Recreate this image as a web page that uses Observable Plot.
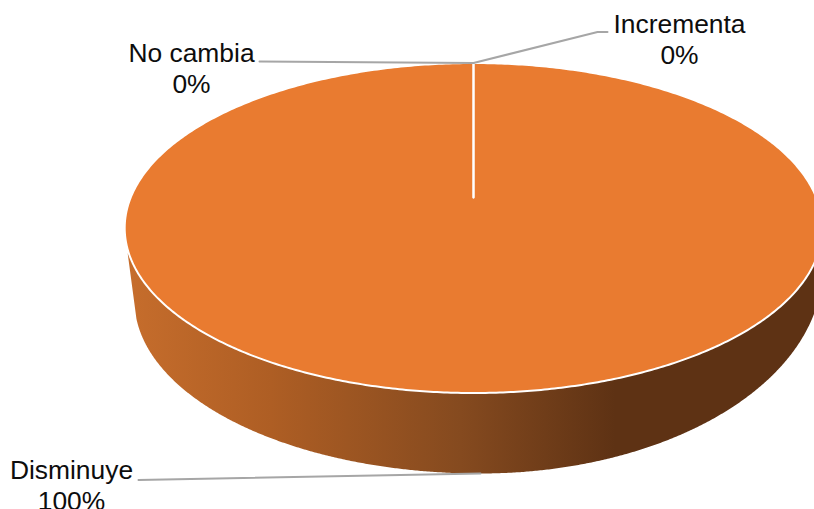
<!DOCTYPE html>
<html>
<head>
<meta charset="utf-8">
<script src="https://cdn.jsdelivr.net/npm/d3@7"></script>
<script src="https://cdn.jsdelivr.net/npm/@observablehq/plot@0.6"></script>
<style>
  html, body { margin: 0; padding: 0; background: #fff; overflow: hidden; }
  svg { display: block; }
</style>
</head>
<body>
<div id="chart"></div>
<script>
// Survey answers and their shares, in percent, clockwise from twelve o'clock.
const categories = ["Incrementa", "Disminuye", "No cambia"];
const shares = [0, 100, 0];

// Tilted-disc geometry, in SVG units.
const width = 814, height = 509;
const disc = {cx: 473, cy: 227.5, rx: 348.8, ry: 165, hubY: 197};
const rimRight = {cx: 480, cy: 268, rx: 342, ry: 205};
const rimLeft = {cx: 480, cy: 300, rx: 346, ry: 173};
const wallCorner = {x: 127.2, y: 253};

// Shading of the side wall, left to right.
const wallStops = [
  [127, "#c66d2c"], [270, "#ae5e24"], [460, "#854a1f"], [615, "#5e3214"], [814, "#5e3214"]
];

// Label placement relative to the rim point each leader starts from.
const labelPlacement = {
  "Incrementa": {elbow: [[124, -31], [134, -31]], dx: 206, dy: -52},
  "No cambia": {elbow: [[-214, -1.5]], dx: -282, dy: -23},
  "Disminuye": {elbow: [[-342, 6.5]], dx: -409, dy: -16}
};

const pie = d3.pie().sort(null).startAngle(0).endAngle(2 * Math.PI);
const arcs = pie(shares).map((a, i) => ({...a, category: categories[i]}));

const onDisc = (a) => [disc.cx + disc.rx * Math.sin(a), disc.cy - disc.ry * Math.cos(a)];
const onRim = (a) => {
  const e = Math.sin(a) >= 0 ? rimRight : rimLeft;
  return [e.cx + e.rx * Math.sin(a), e.cy - e.ry * Math.cos(a)];
};

// Each slice is outlined hub, rim, hub; an empty slice collapses to a white radius.
const slicePoints = arcs.flatMap(({startAngle, endAngle, category}) => {
  const n = Math.ceil((endAngle - startAngle) / 0.01);
  const rim = d3.range(n + 1).map((i) => onDisc(startAngle + (endAngle - startAngle) * (n ? i / n : 0)));
  return [[disc.cx, disc.hubY], ...rim, [disc.cx, disc.hubY]].map(([x, y]) => ({x, y, category}));
});

// Visible front wall: along the disc rim, then back along the lower rim.
const frontAngles = d3.range(Math.PI / 2, 3 * Math.PI / 2, 0.005);
const wallPoints = [
  wallCorner,
  ...frontAngles.slice().reverse().map(onDisc).filter(([x, y]) => y >= wallCorner.y).map(([x, y]) => ({x, y})),
  ...frontAngles.map(onRim).filter(([x, y]) => y >= 318 || x > disc.cx).map(([x, y]) => ({x, y}))
];

// Leaders and labels follow from the angle in the middle of each slice.
const anchors = arcs.map((a) => {
  const mid = (a.startAngle + a.endAngle) / 2;
  const [x, y] = a.value > 50 ? onRim(mid) : onDisc(mid % (2 * Math.PI));
  return {category: a.category, value: a.value, x, y};
});
const leaderPoints = anchors.flatMap(({category, x, y}) => [
  {x, y, category},
  ...labelPlacement[category].elbow.map(([dx, dy]) => ({x: x + dx, y: y + dy, category}))
]);
const labels = anchors.map(({category, value, x, y}) => ({
  text: `${category}\n${value}%`,
  x: x + labelPlacement[category].dx,
  y: y + labelPlacement[category].dy
}));

const wallGradient = () => {
  const defs = d3.create("svg:defs");
  const g = defs.append("linearGradient")
    .attr("id", "wall-shade")
    .attr("gradientUnits", "userSpaceOnUse")
    .attr("x1", 0).attr("x2", width).attr("y1", 0).attr("y2", 0);
  for (const [x, color] of wallStops) {
    g.append("stop").attr("offset", x / width).attr("stop-color", color);
  }
  return defs.node();
};

const chart = Plot.plot({
  width, height,
  margin: 0,
  x: {domain: [0, width], range: [0, width], axis: null},
  y: {domain: [0, height], range: [0, height], axis: null},
  style: {background: "#fff"},
  marks: [
    wallGradient,
    Plot.line(wallPoints, {x: "x", y: "y", fill: "url(#wall-shade)", stroke: "none", curve: "linear"}),
    Plot.line(slicePoints, {
      x: "x", y: "y", z: "category",
      fill: "#e97b30", stroke: "#fff", strokeWidth: 2, curve: "linear", strokeLinejoin: "round"
    }),
    Plot.line(leaderPoints, {x: "x", y: "y", z: "category", stroke: "#a6a6a6", strokeWidth: 2, curve: "linear"}),
    Plot.text(labels, {
      x: "x", y: "y", text: "text",
      lineAnchor: "top", textAnchor: "middle", lineHeight: 1.17,
      fontFamily: "'Liberation Sans', Arial, sans-serif", fontSize: 26.4, fill: "#0d0d0d"
    })
  ]
});
document.getElementById("chart").append(chart);
</script>
</body>
</html>
